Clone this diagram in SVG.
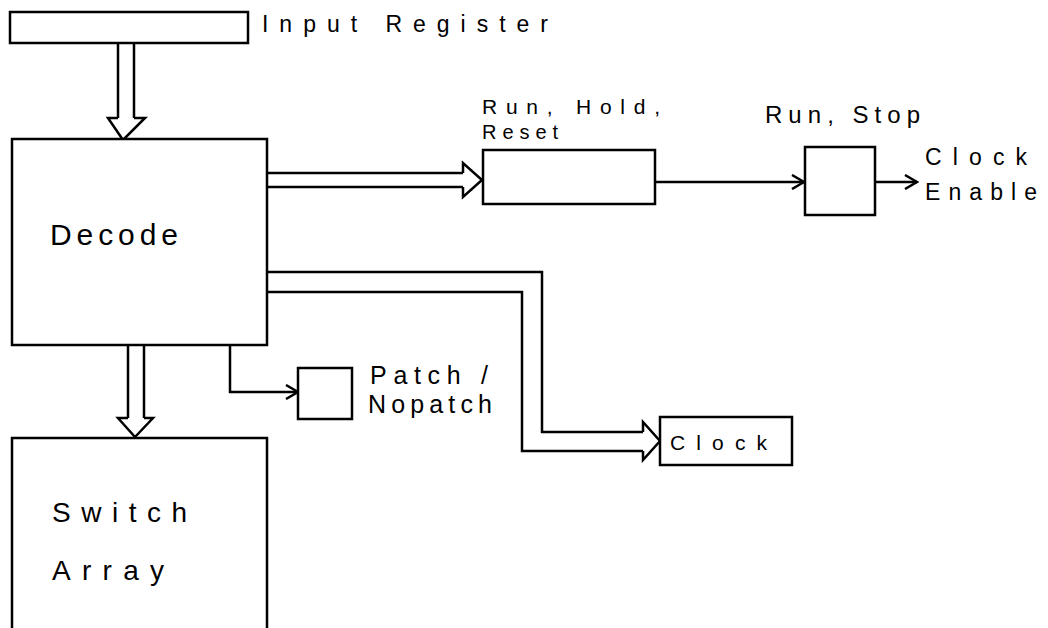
<svg xmlns="http://www.w3.org/2000/svg" width="1048" height="628" viewBox="0 0 1048 628">
<style>
.box{fill:#fff;stroke:#000;stroke-width:2.5}
.ln{fill:none;stroke:#000;stroke-width:2.5;stroke-linejoin:miter}
.t{font-family:"Liberation Sans","DejaVu Sans",sans-serif;fill:#000}
</style>
<defs>
<marker id="v" markerUnits="userSpaceOnUse" markerWidth="16" markerHeight="16" refX="14" refY="8" orient="auto" viewBox="0 0 16 16">
<path d="M2,1 L14,8 L2,15" fill="none" stroke="#000" stroke-width="2.5"/>
</marker>
</defs>
<rect width="1048" height="628" fill="#fff"/>
<g id="connectors">
<path class="ln" d="M118,44 V118 M134,44 V118"/>
<path class="ln" d="M118,118 H108 L123,140 L145,118 H134"/>
<path class="ln" d="M267,173 H463 M267,187 H463"/>
<path class="ln" d="M463,173 V163 L482,180 L463,197 V187"/>
<path class="ln" d="M267,272 H542 V432 H643"/>
<path class="ln" d="M267,292 H522 V451 H643"/>
<path class="ln" d="M643,432 V422 L660,441 L643,460 V451"/>
<path class="ln" d="M128,345 V418 M144,345 V418"/>
<path class="ln" d="M128,418 H118 L135,437 L153,418 H144"/>
<path class="ln" d="M655,182 H804" marker-end="url(#v)"/>
<path class="ln" d="M875,182 H917" marker-end="url(#v)"/>
<path class="ln" d="M230,345 V392 H298" marker-end="url(#v)"/>
</g>
<g id="input-register">
<rect class="box" x="10" y="12" width="238" height="31"/>
<text class="t" x="262" y="32" font-size="23" textLength="286" lengthAdjust="spacing">Input Register</text>
</g>
<g id="decode">
<rect class="box" x="12" y="139" width="255" height="206"/>
<text class="t" x="50" y="245" font-size="30" textLength="128" lengthAdjust="spacing">Decode</text>
</g>
<g id="run-hold-reset">
<rect class="box" x="483" y="150" width="172" height="54"/>
<text class="t" x="482" y="114" font-size="21" textLength="178" lengthAdjust="spacing">Run, Hold,</text>
<text class="t" x="482" y="139" font-size="20" textLength="76" lengthAdjust="spacing">Reset</text>
</g>
<g id="run-stop">
<rect class="box" x="805" y="147" width="70" height="68"/>
<text class="t" x="765" y="123" font-size="24" textLength="155" lengthAdjust="spacing">Run, Stop</text>
</g>
<g id="clock-enable">
<text class="t" x="925" y="165" font-size="23" textLength="102" lengthAdjust="spacing">Clock</text>
<text class="t" x="925" y="200" font-size="23" textLength="112" lengthAdjust="spacing">Enable</text>
</g>
<g id="patch">
<rect class="box" x="298" y="368" width="54" height="51"/>
<text class="t" x="370" y="384" font-size="25" textLength="118" lengthAdjust="spacing">Patch /</text>
<text class="t" x="368" y="413" font-size="25" textLength="124" lengthAdjust="spacing">Nopatch</text>
</g>
<g id="clock">
<rect class="box" x="660" y="417" width="132" height="48"/>
<text class="t" x="670" y="450" font-size="21" textLength="97" lengthAdjust="spacing">Clock</text>
</g>
<g id="switch-array">
<path class="box" d="M12,640 V438 H267 V640"/>
<text class="t" x="52" y="522" font-size="28" textLength="135" lengthAdjust="spacing">Switch</text>
<text class="t" x="52" y="580" font-size="28" textLength="112" lengthAdjust="spacing">Array</text>
</g>
</svg>
